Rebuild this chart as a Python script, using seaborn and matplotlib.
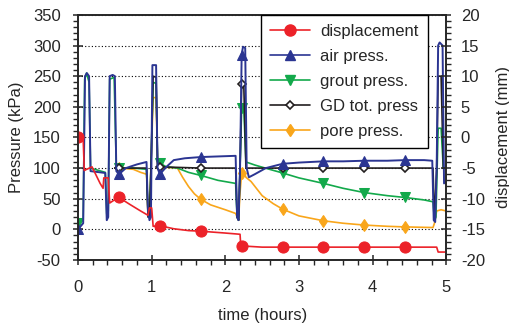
import numpy as np
import seaborn as sns
import matplotlib
matplotlib.use("Agg")
import matplotlib.pyplot as plt
from matplotlib.ticker import MultipleLocator
from matplotlib.lines import Line2D

sns.set_style("ticks")
plt.rcParams['font.family'] = ['Liberation Sans', 'DejaVu Sans']
plt.rcParams['axes.unicode_minus'] = False

# times (hours) where the logger wrote a symbol on each curve
mark_t = [0, 0.556, 1.111, 1.667, 2.222, 2.778, 3.333, 3.889, 4.444]

# air press. (kPa)
air_t = [0, 0.07, 0.095, 0.12, 0.15, 0.17, 0.37, 0.39, 0.41, 0.43, 0.47, 0.50, 0.52, 0.556,
         0.65, 0.80, 0.93, 0.95, 0.97, 0.99, 1.01, 1.06, 1.08, 1.111, 1.2, 1.3, 1.45, 1.667,
         1.9, 2.14, 2.16, 2.18, 2.20, 2.222, 2.24, 2.27, 2.29, 2.32, 2.4, 2.55, 2.778, 3.0,
         3.333, 3.6, 3.889, 4.2, 4.444, 4.7, 4.81, 4.83, 4.85, 4.87, 4.89, 4.91, 4.95, 4.97, 5.0]
air_p = [0, 10, 250, 255, 250, 95, 92, 15, 20, 250, 252, 250, 95, 90,
         100, 106, 110, 30, 15, 20, 268, 268, 100, 90, 102, 113, 116, 118,
         119, 120, 20, 15, 100, 285, 298, 296, 100, 85, 90, 100, 107, 109,
         111, 111, 112, 112, 113, 113, 112, 15, 12, 100, 300, 305, 300, 75, 78]

# grout press. (kPa)
grout_t = [0, 0.07, 0.09, 0.115, 0.15, 0.17, 0.37, 0.39, 0.41, 0.43, 0.49, 0.52, 0.556,
           0.75, 0.93, 0.95, 0.97, 0.99, 1.02, 1.06, 1.08, 1.111, 1.2, 1.35, 1.5, 1.667,
           1.9, 2.14, 2.16, 2.18, 2.20, 2.222, 2.25, 2.28, 2.4, 2.6, 2.778, 3.0, 3.333,
           3.6, 3.889, 4.2, 4.444, 4.7, 4.82, 4.84, 4.86, 4.89, 4.93, 4.96, 5.0]
grout_p = [10, 15, 245, 255, 240, 100, 93, 25, 30, 245, 248, 100, 100,
           100, 98, 25, 20, 100, 240, 238, 110, 108, 102, 100, 93, 88,
           80, 75, 20, 15, 100, 198, 200, 110, 105, 98, 92, 84, 75,
           67, 60, 55, 52, 48, 45, 15, 20, 165, 165, 100, 100]

# GD tot. press (kPa)
gd_t = [0.50, 0.556, 0.93, 0.95, 0.97, 0.99, 1.02, 1.06, 1.08, 1.111, 1.667, 2.14, 2.16,
        2.18, 2.20, 2.222, 2.25, 2.28, 2.778, 3.333, 3.889, 4.444, 4.82, 4.84, 4.87, 4.89,
        4.93, 4.96, 5.0]
gd_p = [100, 100, 100, 20, 20, 100, 250, 248, 105, 102, 100, 100, 20,
        15, 100, 238, 240, 100, 100, 100, 100, 100, 100, 15, 100, 250,
        250, 100, 100]

# pore press. (kPa)
pore_t = [0.50, 0.556, 0.75, 0.85, 0.93, 0.95, 0.97, 0.99, 1.02, 1.06, 1.08, 1.111, 1.35,
          1.42, 1.5, 1.58, 1.667, 1.8, 2.0, 2.14, 2.16, 2.18, 2.20, 2.222, 2.25, 2.28,
          2.35, 2.5, 2.65, 2.778, 3.0, 3.333, 3.6, 3.889, 4.2, 4.444, 4.82, 4.84, 4.87,
          4.93, 5.0]
pore_p = [100, 100, 98, 93, 90, 25, 20, 100, 215, 215, 105, 102, 100,
          85, 70, 58, 49, 40, 32, 26, 20, 15, 60, 92, 95, 85,
          78, 55, 42, 33, 22, 14, 10, 7, 5, 4, 3, 10, 30,
          32, 30]

# displacement (mm)
disp_t = [0, 0.07, 0.085, 0.10, 0.19, 0.30, 0.34, 0.35, 0.41, 0.43, 0.48, 0.556, 0.7, 0.85,
          0.95, 0.97, 1.0, 1.02, 1.111, 1.3, 1.5, 1.667, 2.0, 2.20, 2.21, 2.222, 2.5,
          2.778, 3.333, 3.889, 4.444, 4.87, 4.89, 5.0]
disp_mm = [0, -0.3, -5.4, -5.3, -4.8, -7.5, -8.3, -6.6, -6.6, -10.7, -10.3, -9.8, -10.9, -12.0,
           -12.7, -11.5, -11.5, -14.5, -14.4, -14.9, -15.2, -15.3, -15.6, -15.8, -17.7, -17.7, -17.9,
           -17.9, -17.9, -17.9, -17.9, -17.9, -18.7, -18.7]

c_red = '#ec2229'
c_blue = '#2b3592'
c_green = '#13a94b'
c_black = '#231f20'
c_orange = '#f9a61b'


def mark_idx(t):
    return [i for i, v in enumerate(t) if any(abs(v - m) < 1e-3 for m in mark_t)]


fig, ax = plt.subplots(figsize=(5.10, 3.23), dpi=100)
fig.subplots_adjust(left=0.153, right=0.875, top=0.954, bottom=0.195)
ax2 = ax.twinx()

lw = 1.2
sns.lineplot(x=pore_t, y=pore_p, ax=ax, color=c_orange, lw=lw, marker='d', ms=6.5,
             mec=c_orange, markevery=mark_idx(pore_t), estimator=None, sort=False)
sns.lineplot(x=grout_t, y=grout_p, ax=ax, color=c_green, lw=lw, marker='v', ms=7.5,
             mec=c_green, markevery=mark_idx(grout_t), estimator=None, sort=False)
sns.lineplot(x=gd_t, y=gd_p, ax=ax, color=c_black, lw=lw, marker='D', ms=4.5, mfc='white',
             mec=c_black, mew=1.2, markevery=mark_idx(gd_t), estimator=None, sort=False)
sns.lineplot(x=air_t, y=air_p, ax=ax, color=c_blue, lw=1.4, marker='^', ms=7.5,
             mec=c_blue, markevery=mark_idx(air_t), estimator=None, sort=False)
sns.lineplot(x=disp_t, y=disp_mm, ax=ax2, color=c_red, lw=lw, marker='o', ms=8,
             mec=c_red, markevery=mark_idx(disp_t), estimator=None, sort=False)

ax.set_xlim(0, 5)
ax.set_ylim(-50, 350)
ax2.set_ylim(-20, 20)
ax.xaxis.set_major_locator(MultipleLocator(1))
ax.xaxis.set_minor_locator(MultipleLocator(0.2))
ax.yaxis.set_major_locator(MultipleLocator(50))
ax.yaxis.set_minor_locator(MultipleLocator(10))
ax2.yaxis.set_major_locator(MultipleLocator(5))
ax2.yaxis.set_minor_locator(MultipleLocator(1))

for sp in ['left', 'right', 'top', 'bottom']:
    ax.spines[sp].set_linewidth(1.2)
    ax2.spines[sp].set_linewidth(1.2)
for a in (ax, ax2):
    a.tick_params(which='major', direction='inout', length=7, width=1.1, labelsize=12)
    a.tick_params(which='minor', direction='out', length=3.5, width=1.0)
ax.tick_params(axis='x', which='major', pad=11)
ax.tick_params(axis='y', which='major', pad=9)
ax2.tick_params(axis='y', which='major', pad=7)

ax.yaxis.grid(True, which='major', linestyle=(0, (1, 2)), color='k', lw=0.8)
ax.set_axisbelow(True)

ax.set_xlabel('time (hours)', fontsize=12, labelpad=9)
ax.set_ylabel('Pressure (kPa)', fontsize=12, labelpad=6)
ax2.set_ylabel('displacement (mm)', fontsize=12, labelpad=8)

handles = [
    Line2D([], [], color=c_red, lw=lw, marker='o', ms=8),
    Line2D([], [], color=c_blue, lw=lw, marker='^', ms=7.5),
    Line2D([], [], color=c_green, lw=lw, marker='v', ms=7.5),
    Line2D([], [], color=c_black, lw=lw, marker='D', ms=4.5, mfc='white', mew=1.2),
    Line2D([], [], color=c_orange, lw=lw, marker='d', ms=6.5),
]
labels = ['displacement', 'air press.', 'grout press.', 'GD tot. press', 'pore press.']
leg = ax2.legend(handles, labels, loc='upper left', bbox_to_anchor=(0.497, 1.0),
                 borderaxespad=0, fontsize=12, frameon=True, fancybox=False,
                 edgecolor='k', framealpha=1, handlelength=2.4, handletextpad=0.6,
                 labelspacing=0.6, borderpad=0.55)
leg.get_frame().set_linewidth(1.0)

fig.savefig('out.png', dpi=100)
